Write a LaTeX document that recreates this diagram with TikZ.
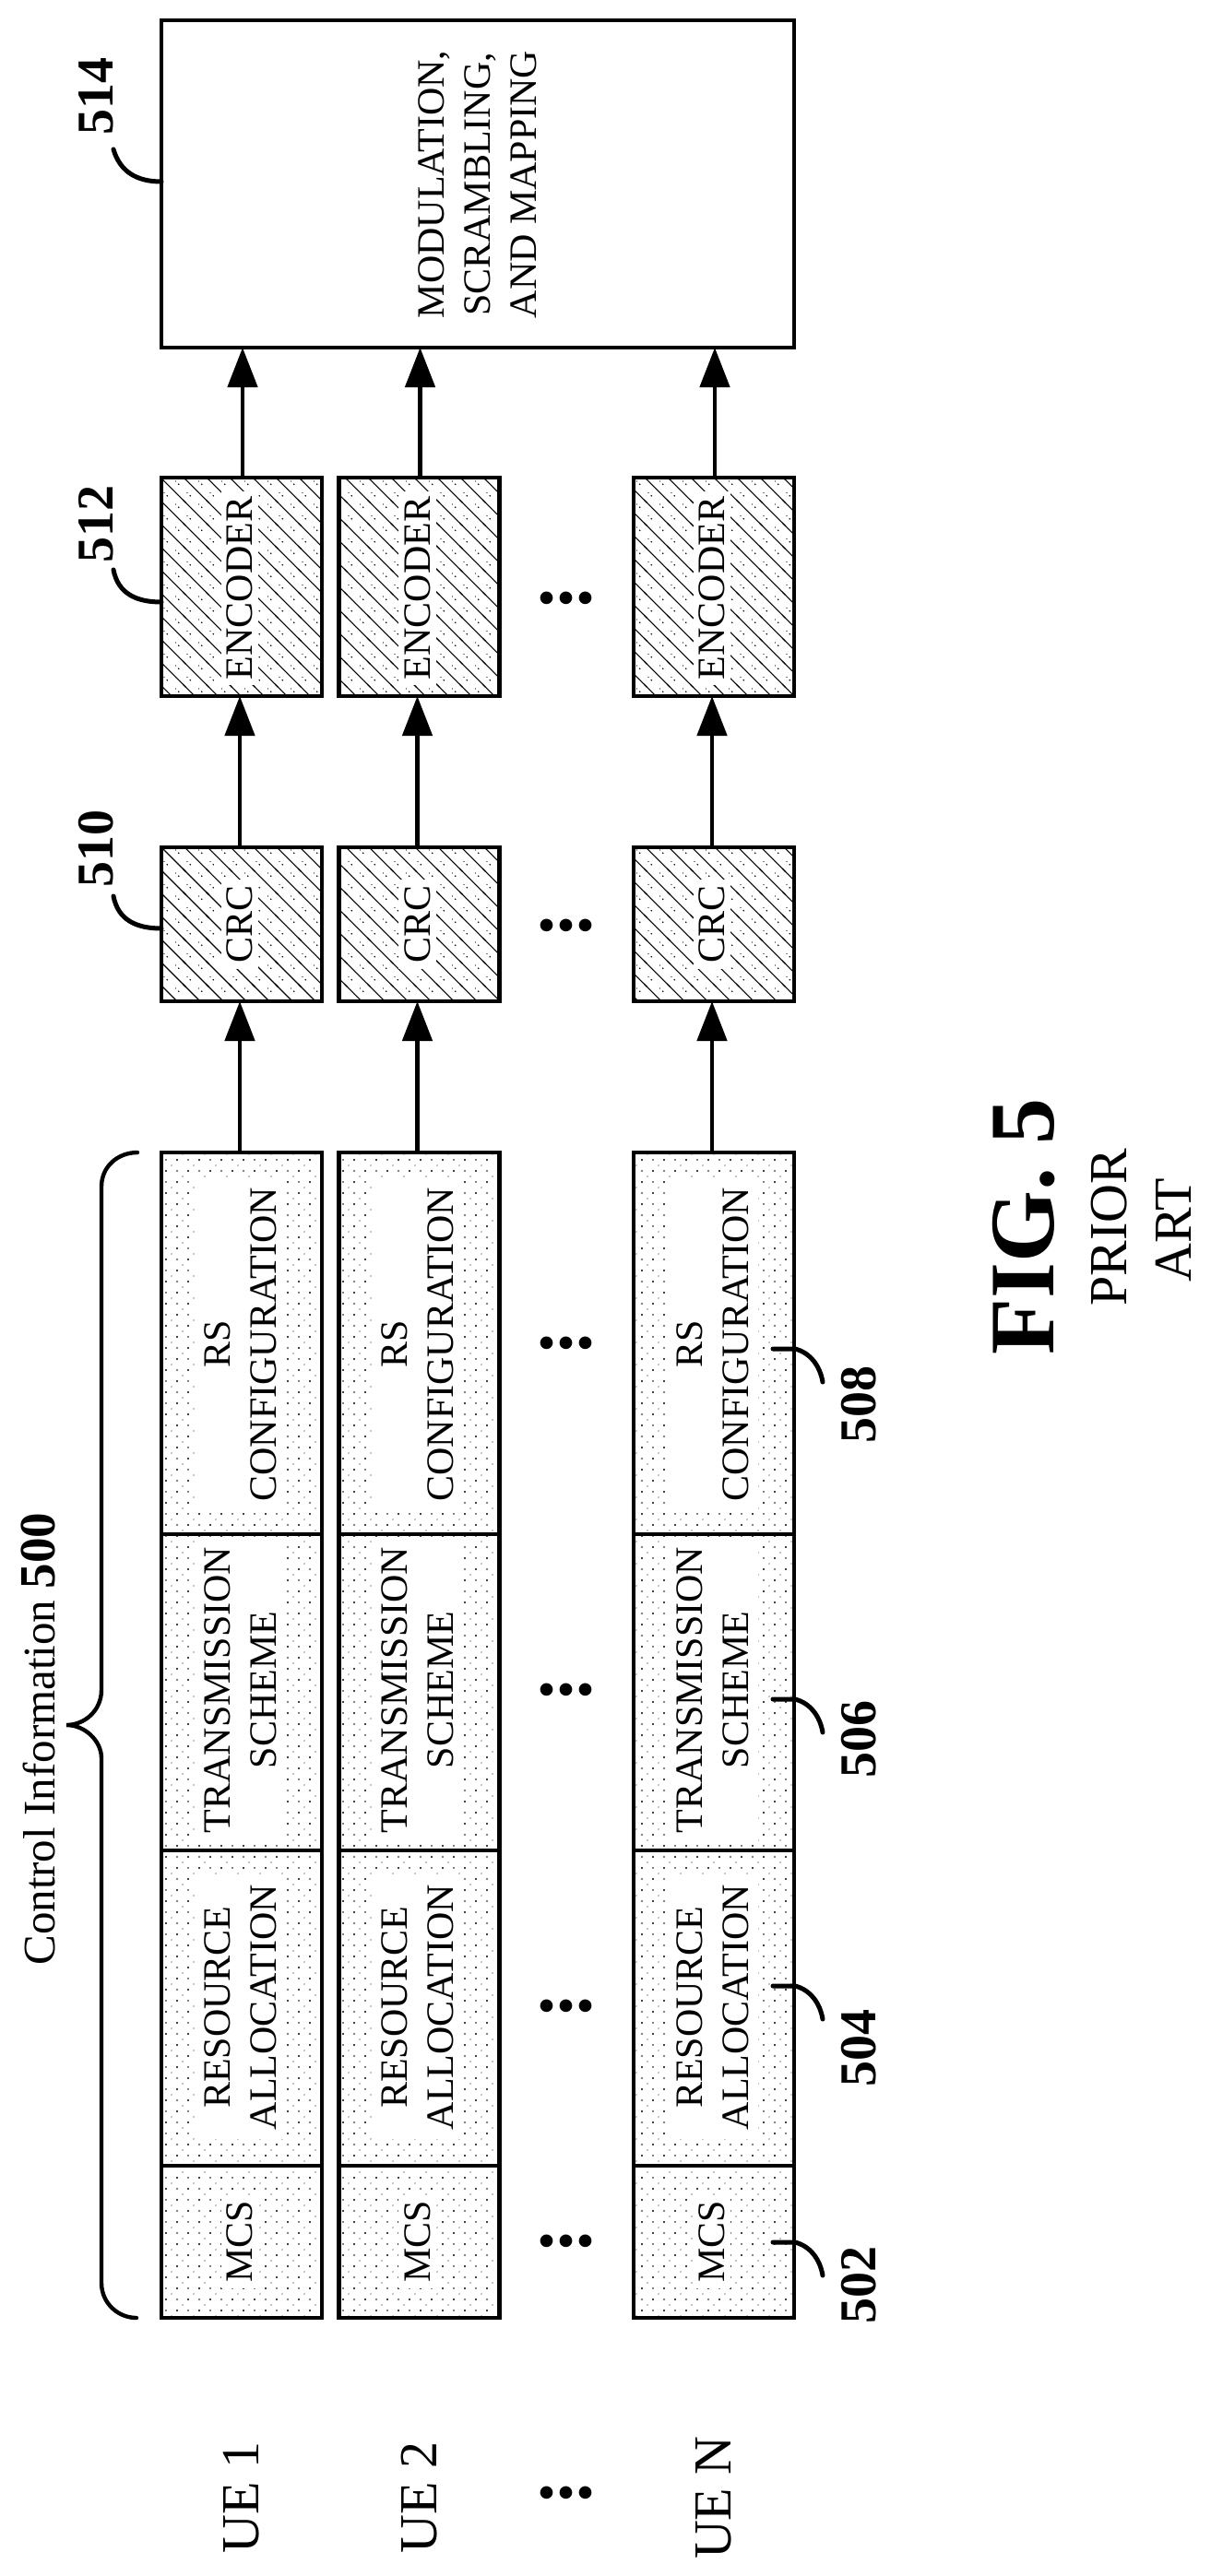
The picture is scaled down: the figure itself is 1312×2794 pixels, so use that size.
\documentclass[tikz,border=0pt]{standalone}
\usepackage{fontspec}
\setmainfont{Liberation Serif}
\usetikzlibrary{arrows.meta,patterns,calc}
\pgfdeclarepatternformonly{stip}{\pgfqpoint{-1pt}{-1pt}}{\pgfqpoint{13pt}{13pt}}{\pgfqpoint{12pt}{12pt}}{
  \pgfpathcircle{\pgfqpoint{0pt}{0pt}}{0.6pt}
  \pgfpathcircle{\pgfqpoint{6pt}{6pt}}{0.55pt}
  \pgfpathcircle{\pgfqpoint{6pt}{0pt}}{0.4pt}
  \pgfpathcircle{\pgfqpoint{0pt}{6pt}}{0.4pt}
  \pgfpathcircle{\pgfqpoint{3pt}{3pt}}{0.3pt}
  \pgfpathcircle{\pgfqpoint{9pt}{9pt}}{0.3pt}
  \pgfusepath{fill}
}
\pgfdeclarepatternformonly{hatchy}{\pgfqpoint{-1pt}{-1pt}}{\pgfqpoint{13.5pt}{13.5pt}}{\pgfqpoint{12.5pt}{12.5pt}}{
  \pgfsetlinewidth{0.55pt}
  \pgfpathmoveto{\pgfqpoint{-1pt}{13.5pt}}
  \pgfpathlineto{\pgfqpoint{13.5pt}{-1pt}}
  \pgfusepath{stroke}
  \pgfpathcircle{\pgfqpoint{3.125pt}{3.125pt}}{0.4pt}
  \pgfpathcircle{\pgfqpoint{9.375pt}{9.375pt}}{0.4pt}
  \pgfpathcircle{\pgfqpoint{1.5pt}{4.75pt}}{0.33pt}
  \pgfpathcircle{\pgfqpoint{7.75pt}{11pt}}{0.33pt}
  \pgfusepath{fill}
}
\tikzset{
  x=0.5pt,y=-0.5pt,
  boxa/.style={draw,line width=2.2pt,inner sep=0pt,outer sep=0pt,minimum width=87pt},
  dotbox/.style={boxa,pattern=stip},
  hatchbox/.style={boxa,pattern=hatchy},
  plainbox/.style={draw,line width=2.3pt,inner sep=0pt,outer sep=0pt,fill=white},
  lbl/.style={rotate=90,align=center,font=\fontsize{21pt}{25pt}\selectfont,fill=white,inner sep=5pt},
  lbls/.style={lbl,inner sep=3pt},
  ref/.style={rotate=90,anchor=base,font=\fontsize{28pt}{30pt}\selectfont\bfseries,inner sep=0pt},
  ue/.style={rotate=90,anchor=base,font=\fontsize{29pt}{30pt}\selectfont,inner sep=0pt},
  dots/.style={anchor=base,font=\fontsize{42pt}{44pt}\selectfont\bfseries,inner sep=0pt},
  flow/.style={line width=2.4pt,-{Triangle[length=21.5pt,width=16pt]}},
  lead/.style={line width=2.5pt,line cap=round},
  brace/.style={line width=2.2pt,line cap=round,line join=miter}
}
\begin{document}
\begin{tikzpicture}
\useasboundingbox (0,0) rectangle (1312,2794);
% output block
\node[plainbox,minimum width=343pt,minimum height=177.5pt] (mod) at (518,199.5) {};
\node[rotate=90,align=center,font=\fontsize{21pt}{25pt}\selectfont,inner sep=0pt] (modtxt) at (518,200) {MODULATION,\\SCRAMBLING,\\AND MAPPING};
% rows
\foreach \r/\cx/\ue in {1/262/UE 1, 2/454.5/UE 2, N/774/UE N}{
  \node[dotbox,minimum height=207pt] (rs\r) at (\cx,1457) {};
  \node[dotbox,minimum height=171.5pt] (ts\r) at (\cx,1835.5) {};
  \node[dotbox,minimum height=171pt] (ra\r) at (\cx,2178) {};
  \node[dotbox,minimum height=82.5pt] (mc\r) at (\cx,2431.5) {};
  \node[hatchbox,minimum height=83.5pt] (cr\r) at (\cx,1002.5) {};
  \node[hatchbox,minimum height=118.5pt] (en\r) at (\cx,636.5) {};
  \node[lbl] (rst\r) at (\cx-1.5,1458) {RS\\CONFIGURATION};
  \node[lbl] (tst\r) at (\cx-1.5,1833) {TRANSMISSION\\SCHEME};
  \node[lbl] (rat\r) at (\cx-1.5,2177) {RESOURCE\\ALLOCATION};
  \node[lbls] (mct\r) at (\cx-2,2431.5) {MCS};
  \node[lbls] (crt\r) at (\cx-2,1002.5) {CRC};
  \node[lbls] (ent\r) at (\cx-2,638) {ENCODER};
  \node[ue] (ue\r) at (\cx+18.5,2709) {\ue};
  \draw[flow] ([xshift=-1pt]rs\r.north) -- ([xshift=-1pt]cr\r.south);
  \draw[flow] ([xshift=-1pt]cr\r.north) -- ([xshift=-1pt]en\r.south);
  \draw[flow] ([xshift=0.5pt]en\r.north) -- ([xshift=0.5pt]en\r.north |- mod.south);
}
% ellipses
\foreach \n/\yy in {a/648,b/1003,c/1456,d/1832,e/2175,f/2430,g/2703}{
  \node[dots] (dot\n) at (614,\yy+6) {...};
}
% brace and its caption
\coordinate (bta) at (149,1250);
\coordinate (btb) at (110,1287);
\coordinate (bmt) at (110,1833);
\coordinate (btip) at (72,1871);
\coordinate (bmb) at (110,1907);
\coordinate (bbb) at (110,2476);
\coordinate (bba) at (148,2514);
\draw[brace] (bta) .. controls (128,1250) and (110,1265) .. (btb) -- (bmt)
  .. controls (110,1855) and (92,1871) .. (btip)
  .. controls (92,1871) and (110,1888) .. (bmb) -- (bbb)
  .. controls (110,2498) and (128,2514) .. (bba);
\node[rotate=90,anchor=base west,font=\fontsize{24.5pt}{26pt}\selectfont,inner sep=0pt] (cap) at (59,2132) {Control Information {\fontsize{27.5pt}{30pt}\selectfont\bfseries 500}};
% reference labels
\node[ref] (r514) at (122,105) {514};
\node[ref] (r512) at (122,568) {512};
\node[ref] (r510) at (122,920) {510};
\node[ref] (r508) at (949,1523) {508};
\node[ref] (r506) at (949,1886) {506};
\node[ref] (r504) at (949,2221) {504};
\node[ref] (r502) at (949,2478) {502};
% leaders
\coordinate (e514) at (123,162);
\coordinate (e512) at (123,618);
\coordinate (e510) at (123,972);
\draw[lead] (mod.west |- 0,197) .. controls (148,197) and (130,186) .. (e514);
\draw[lead] (en1.west) ++(0,16.5) .. controls (148,653) and (128,644) .. (e512);
\draw[lead] (cr1.west) ++(0,4.5) .. controls (148,1007) and (128,998) .. (e510);
\foreach \nm/\yy in {508/1463,506/1843,504/2154,502/2432}{
  \coordinate (s\nm) at (838,\yy);
  \coordinate (f\nm) at (892,\yy+36);
  \draw[lead] (s\nm) -- (862,\yy) .. controls (878,\yy+4) and (889,\yy+18) .. (f\nm);
}
% figure caption
\node[rotate=90,anchor=base west,font=\fontsize{50pt}{52pt}\selectfont\bfseries,inner sep=0pt] (fig) at (1142,1470) {FIG. 5};
\node[rotate=90,anchor=base,font=\fontsize{29pt}{31pt}\selectfont,inner sep=0pt] (prior) at (1221,1331) {PRIOR};
\node[rotate=90,anchor=base,font=\fontsize{29pt}{31pt}\selectfont,inner sep=0pt] (art) at (1291,1334) {ART};
\end{tikzpicture}
\end{document}
